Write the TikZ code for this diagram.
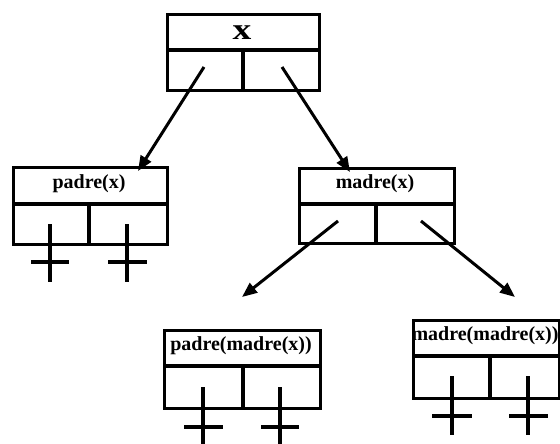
\documentclass[tikz,border=0pt]{standalone}
\usepackage{fontspec}
\setmainfont{Liberation Serif}
\usetikzlibrary{arrows.meta}
\begin{document}
\begin{tikzpicture}[x=1pt,y=-1pt,
  cellbox/.style={draw, line width=3.2pt, rectangle, inner sep=0pt, anchor=north west},
  divline/.style={line width=3.2pt},
  lbl/.style={font=\fontsize{20}{22}\selectfont\bfseries, inner sep=0pt},
  arr/.style={line width=3pt, -{Triangle[length=15pt,width=12pt]}},
  crossline/.style={line width=3.2pt}]
\useasboundingbox (0,0) rectangle (560,444);
% top box
\node[cellbox, minimum width=152pt, minimum height=76pt] (top) at (166,13) {};
\draw[divline] (166,50) -- (318,50) (243,50) -- (243,89);
\node[font=\fontsize{30}{32}\selectfont\bfseries, inner sep=0pt, xscale=1.25] (topt) at (242,33) {x};
% padre(x)
\node[cellbox, minimum width=154pt, minimum height=77pt] (p) at (12,166) {};
\draw[divline] (12,204) -- (166,204) (89,204) -- (89,243);
\node[lbl] (pt) at (89,184) {padre(x)};
% madre(x)
\node[cellbox, minimum width=155pt, minimum height=75pt] (m) at (298,167) {};
\draw[divline] (298,204) -- (453,204) (376,204) -- (376,242);
\node[lbl] (mt) at (375,184) {madre(x)};
% padre(madre(x))
\node[cellbox, minimum width=156pt, minimum height=78pt] (pm) at (163,329) {};
\draw[divline] (163,366) -- (319,366) (243,366) -- (243,407);
\node[lbl] (pmt) at (241,346) {padre(madre(x))};
% madre(madre(x))
\node[cellbox, minimum width=146pt, minimum height=78pt] (mm) at (412,319) {};
\draw[divline] (412,356) -- (558,356) (490,356) -- (490,397);
\node[lbl] (mmt) at (485,336) {madre(madre(x))};
% crosses
\draw[crossline] (50,224) -- (50,282) (31,262) -- (69,262);
\draw[crossline] (127,224) -- (127,282) (108,262) -- (147,262);
\draw[crossline] (203,387) -- (203,444) (184,427) -- (223,427);
\draw[crossline] (280,387) -- (280,444) (261,427) -- (299,427);
\draw[crossline] (452,376) -- (452,435) (432,416) -- (472,416);
\draw[crossline] (528,376) -- (528,435) (509,416) -- (548,416);
% arrows
\coordinate (a1) at (204,67);
\coordinate (a2) at (282,67);
\coordinate (b1) at (338,221);
\coordinate (b2) at (421,221);
\coordinate (t1) at (138,171);
\coordinate (t2) at (350,172);
\coordinate (t3) at (242,297);
\coordinate (t4) at (515,297);
\draw[arr] (a1) -- (t1);
\draw[arr] (a2) -- (t2);
\draw[arr] (b1) -- (t3);
\draw[arr] (b2) -- (t4);
\end{tikzpicture}
\end{document}
